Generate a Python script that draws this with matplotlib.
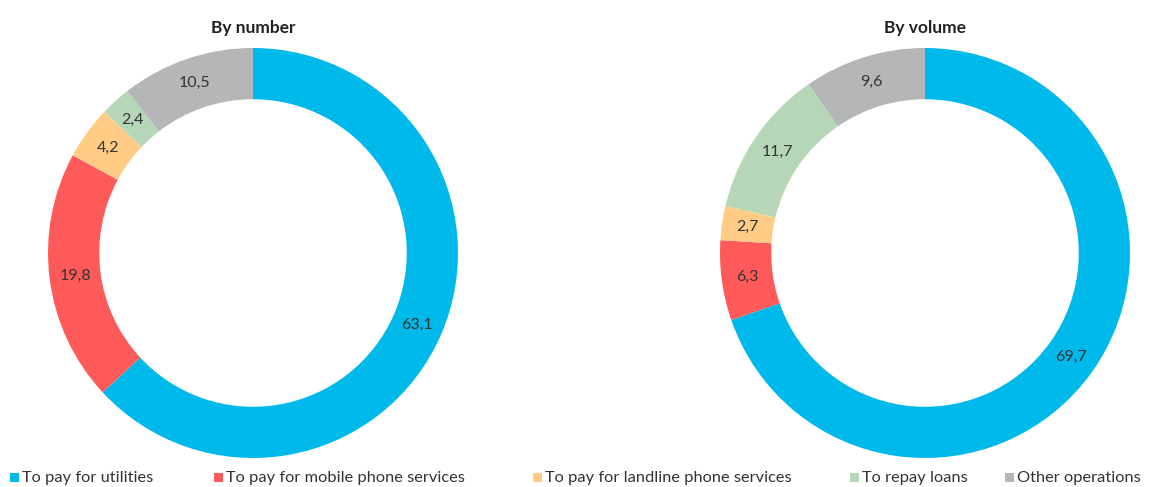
import matplotlib
matplotlib.use("Agg")
import matplotlib.pyplot as plt
from matplotlib.patches import Rectangle

plt.rcParams['font.family'] = ['Lato', 'DejaVu Sans']

categories = ['To pay for utilities', 'To pay for mobile phone services',
              'To pay for landline phone services', 'To repay loans', 'Other operations']
by_number = [63.1, 19.8, 4.2, 2.4, 10.5]
by_volume = [69.7, 6.3, 2.7, 11.7, 9.6]
colors = ['#00B9EB', '#FF5A5A', '#FFCB85', '#B6D7B7', '#B5B6B8']


def fmt(v):
    return f"{v:.1f}".replace('.', ',')


def draw_donut(ax, values, title):
    wedges, texts = ax.pie(values, colors=colors, startangle=90, counterclock=False,
                           radius=1.0, labels=[fmt(v) for v in values],
                           labeldistance=0.875,
                           wedgeprops=dict(width=0.25, edgecolor='none'),
                           textprops=dict(fontsize=11.5, color='#333333', ha='center', va='center'))
    ax.set_xlim(-1, 1)
    ax.set_ylim(-1, 1)
    ax.set_aspect('equal')
    ax.set_title(title, fontsize=12.5, fontweight='bold', color='#222222', pad=11)


fig = plt.figure(figsize=(11.72, 4.87), dpi=100)
ax1 = fig.add_axes([48 / 1172, 29 / 487, 410 / 1172, 410 / 487])
ax2 = fig.add_axes([720 / 1172, 29 / 487, 410 / 1172, 410 / 487])
draw_donut(ax1, by_number, 'By number')
draw_donut(ax2, by_volume, 'By volume')

# legend along the bottom
legend_x = [10, 214, 533, 850, 1005]
for x, label, c in zip(legend_x, categories, colors):
    fig.patches.append(Rectangle((x / 1172, 5 / 487), 9 / 1172, 9 / 487,
                                 transform=fig.transFigure, facecolor=c, edgecolor='none'))
    fig.text((x + 12) / 1172, 9 / 487, label, fontsize=11.8, color='#333333', va='center', ha='left')

fig.savefig('out.png', dpi=100)
